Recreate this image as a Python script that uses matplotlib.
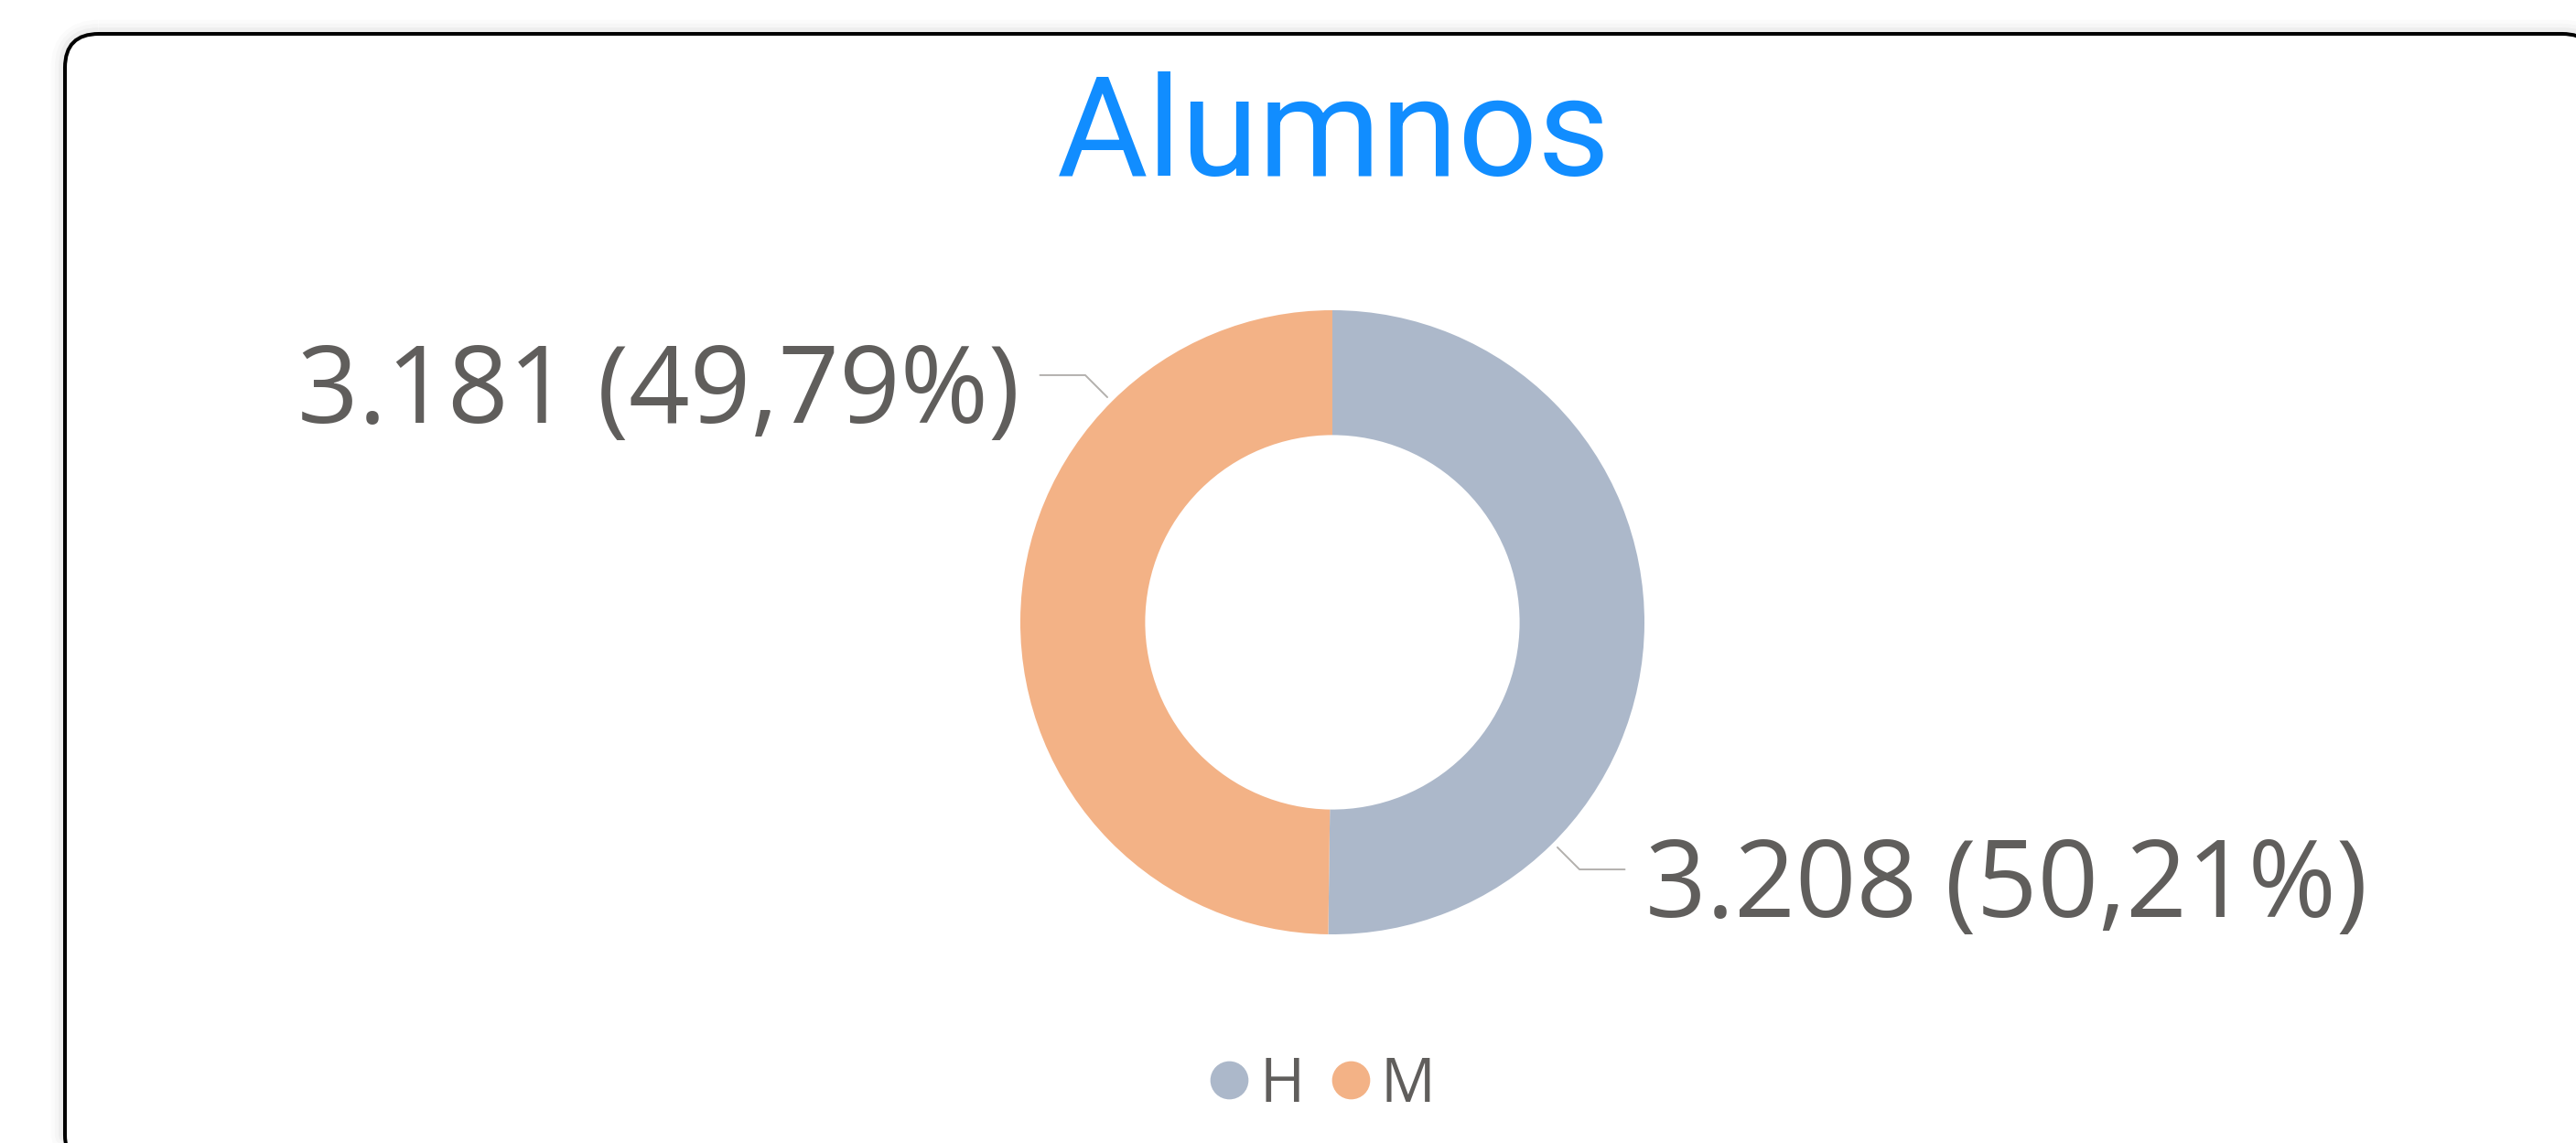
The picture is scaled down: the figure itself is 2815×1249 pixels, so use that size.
import matplotlib.pyplot as plt
from matplotlib.patches import FancyBboxPatch
from matplotlib.lines import Line2D
import numpy as np

# datos
categorias = ["H", "M"]
alumnos = [3208, 3181]
colores = ["#ACB8CA", "#F3B286"]
titulo = "Alumnos"

W, H = 2815, 1249
fig = plt.figure(figsize=(W / 100, H / 100), dpi=100)
fig.patch.set_facecolor("white")

# fondo con marco redondeado (coordenadas en pixeles)
bg = fig.add_axes([0, 0, 1, 1])
bg.set_xlim(0, W)
bg.set_ylim(H, 0)
bg.axis("off")
for lw, a in [(22, 0.015), (16, 0.02), (10, 0.03)]:
    bg.add_patch(FancyBboxPatch((71, 37), 2766, 1240,
                                boxstyle="round,pad=0,rounding_size=37",
                                facecolor="none", edgecolor="black", lw=lw, alpha=a))
bg.add_patch(FancyBboxPatch((71, 37), 2766, 1240,
                            boxstyle="round,pad=0,rounding_size=37",
                            facecolor="white", edgecolor="black", lw=2.9))

# titulo
fig.text(1457 / W, 1 - 192 / H, titulo, ha="center", va="baseline",
         fontsize=110, color="#118DFF", family=["Roboto", "DejaVu Sans"])

# donut
cx, cy, R = 1456, 680, 341
ax = fig.add_axes([(cx - R) / W, (H - cy - R) / H, 2 * R / W, 2 * R / H])
wedges, _ = ax.pie(alumnos, colors=colores, startangle=90, counterclock=False,
                   radius=1, wedgeprops=dict(width=0.4, edgecolor="none"))
ax.set_xlim(-1, 1)
ax.set_ylim(-1, 1)
ax.axis("off")

total = sum(alumnos)
gris = "#605E5C"
# etiquetas: H abajo-derecha, M arriba-izquierda
angulos = [-45, 135]
for v, ang in zip(alumnos, angulos):
    pct = v / total * 100
    txt = f"{v:,}".replace(",", ".") + " (" + f"{pct:.2f}".replace(".", ",") + "%)"
    c, s = np.cos(np.radians(ang)), np.sin(np.radians(ang))
    sx = 1 if c > 0 else -1
    p0 = (1.02 * c, 1.02 * s)
    p1 = (1.12 * c, 1.12 * s)
    p2 = (p1[0] + sx * 0.145, p1[1])
    ax.plot([p0[0], p1[0], p2[0]], [p0[1], p1[1], p2[1]], color="#B3B0AD",
            lw=1.4, clip_on=False, solid_capstyle="round")
    ax.text(p2[0] + sx * 0.065, p2[1] - 52 / R, txt, ha="left" if sx > 0 else "right",
            va="baseline", fontsize=84, color=gris, family=["Open Sans", "DejaVu Sans"],
            clip_on=False)

# leyenda
handles = [Line2D([], [], marker="o", ls="", color=c, markersize=29) for c in colores]
fig.legend(handles, categorias, loc="center", bbox_to_anchor=(1446 / W, 1 - 1186 / H),
           ncol=2, frameon=False, handlelength=0.6, handletextpad=0.2,
           columnspacing=0.45, borderpad=0,
           prop={"family": ["Open Sans", "DejaVu Sans"], "size": 48},
           labelcolor=gris)

fig.savefig("out.png", dpi=100)
